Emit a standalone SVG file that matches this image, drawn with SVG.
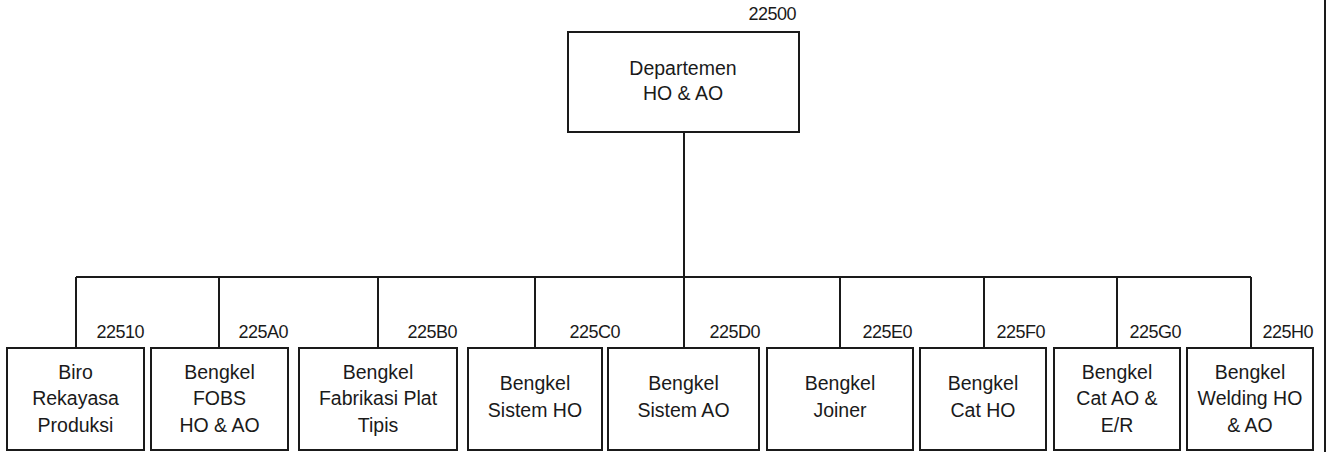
<svg xmlns="http://www.w3.org/2000/svg" width="1329" height="452" viewBox="0 0 1329 452">
<style>
.box{fill:#fff;stroke:#1a1a1a;stroke-width:2}
.ln{stroke:#1a1a1a;stroke-width:2;fill:none}
.t{font-family:"Liberation Sans",Arial,sans-serif;font-size:19.5px;fill:#1a1a1a;text-anchor:middle}
.c{font-family:"Liberation Sans",Arial,sans-serif;font-size:18px;fill:#1a1a1a;text-anchor:end;letter-spacing:-0.5px}
</style>
<rect width="1329" height="452" fill="#fff"/>
<g id="connectors">
<line class="ln" x1="684" y1="132" x2="684" y2="277"/>
<line class="ln" x1="76" y1="277" x2="1251" y2="277"/>
<line class="ln" x1="76" y1="277" x2="76" y2="348"/>
<line class="ln" x1="219" y1="277" x2="219" y2="348"/>
<line class="ln" x1="378" y1="277" x2="378" y2="348"/>
<line class="ln" x1="535" y1="277" x2="535" y2="348"/>
<line class="ln" x1="684" y1="277" x2="684" y2="348"/>
<line class="ln" x1="840" y1="277" x2="840" y2="348"/>
<line class="ln" x1="984" y1="277" x2="984" y2="348"/>
<line class="ln" x1="1117" y1="277" x2="1117" y2="348"/>
<line class="ln" x1="1251" y1="277" x2="1251" y2="348"/>
</g>
<line class="ln" x1="1325" y1="0" x2="1325" y2="452"/>
<g id="n22500">
<rect class="box" x="568" y="32" width="231" height="100"/>
<text class="t" x="683" y="75">Departemen</text>
<text class="t" x="683" y="100">HO &amp; AO</text>
<text class="c" x="796" y="20">22500</text>
</g>
<g id="n22510">
<rect class="box" x="7" y="348" width="137" height="102"/>
<text class="t" x="75.5" y="379">Biro</text>
<text class="t" x="75.5" y="405">Rekayasa</text>
<text class="t" x="75.5" y="432">Produksi</text>
<text class="c" x="144" y="338">22510</text>
</g>
<g id="n225A0">
<rect class="box" x="151" y="348" width="137" height="102"/>
<text class="t" x="219.5" y="379">Bengkel</text>
<text class="t" x="219.5" y="405">FOBS</text>
<text class="t" x="219.5" y="432">HO &amp; AO</text>
<text class="c" x="288" y="338">225A0</text>
</g>
<g id="n225B0">
<rect class="box" x="299" y="348" width="158" height="102"/>
<text class="t" x="378" y="379">Bengkel</text>
<text class="t" x="378" y="405">Fabrikasi Plat</text>
<text class="t" x="378" y="432">Tipis</text>
<text class="c" x="457" y="338">225B0</text>
</g>
<g id="n225C0">
<rect class="box" x="468" y="348" width="134" height="102"/>
<text class="t" x="535" y="390">Bengkel</text>
<text class="t" x="535" y="417">Sistem HO</text>
<text class="c" x="620" y="338">225C0</text>
</g>
<g id="n225D0">
<rect class="box" x="608" y="348" width="151" height="102"/>
<text class="t" x="683.5" y="390">Bengkel</text>
<text class="t" x="683.5" y="417">Sistem AO</text>
<text class="c" x="760" y="338">225D0</text>
</g>
<g id="n225E0">
<rect class="box" x="767" y="348" width="146" height="102"/>
<text class="t" x="840" y="390">Bengkel</text>
<text class="t" x="840" y="417">Joiner</text>
<text class="c" x="912" y="338">225E0</text>
</g>
<g id="n225F0">
<rect class="box" x="920" y="348" width="126" height="102"/>
<text class="t" x="983" y="390">Bengkel</text>
<text class="t" x="983" y="417">Cat HO</text>
<text class="c" x="1045" y="338">225F0</text>
</g>
<g id="n225G0">
<rect class="box" x="1054" y="348" width="126" height="102"/>
<text class="t" x="1117" y="379">Bengkel</text>
<text class="t" x="1117" y="405">Cat AO &amp;</text>
<text class="t" x="1117" y="432">E/R</text>
<text class="c" x="1181" y="338">225G0</text>
</g>
<g id="n225H0">
<rect class="box" x="1187" y="348" width="126" height="102"/>
<text class="t" x="1250" y="379">Bengkel</text>
<text class="t" x="1250" y="405">Welding HO</text>
<text class="t" x="1250" y="432">&amp; AO</text>
<text class="c" x="1313" y="338">225H0</text>
</g>
</svg>
